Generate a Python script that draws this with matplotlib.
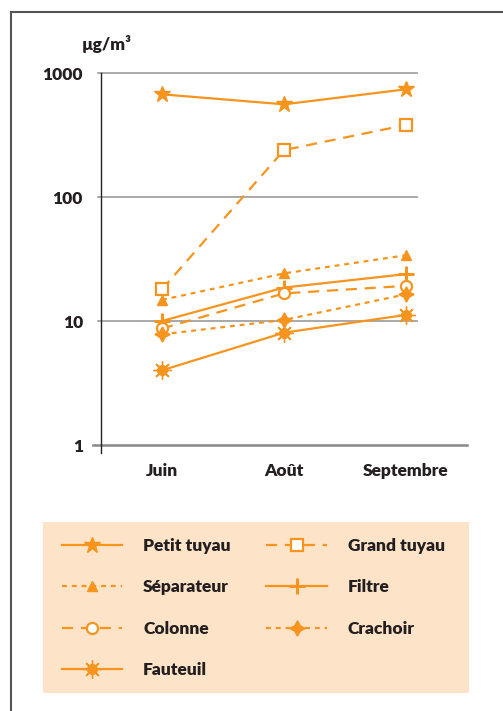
import matplotlib.pyplot as plt
from matplotlib.patches import Rectangle

# Data (log scale, µg/m3)
months = ["Juin", "Août", "Septembre"]
petit_tuyau = [673, 559, 739]
grand_tuyau = [18.0, 239, 381]
separateur = [14.8, 24.2, 33.9]
filtre = [10.0, 18.6, 23.9]
colonne = [8.7, 16.7, 19.2]
crachoir = [7.8, 10.2, 16.4]
fauteuil = [4.0, 8.05, 11.2]

ORANGE = "#F7941E"
TEXT = "#231F20"
FS = 12.5
plt.rcParams["font.family"] = ["Lato", "DejaVu Sans"]

W, H = 503, 711
fig = plt.figure(figsize=(W / 100, H / 100), dpi=100)


def fx(px):
    return px / W


def fy(py):
    return 1 - py / H


# outer frame: left and top lines only
fig.add_artist(plt.Line2D([fx(11), fx(11)], [fy(12), 0], color="#555555", lw=1.5))
fig.add_artist(plt.Line2D([fx(11), 1], [fy(12), fy(12)], color="#555555", lw=1.5))

ax = fig.add_axes([fx(101), fy(453), fx(467) - fx(101), fy(73) - fy(453)])
ax.set_yscale("log")
ax.set_ylim(10 ** (-8 / 124), 1000)
ax.set_xlim(-0.5, 2.5)
x = range(len(months))

for s in ["top", "right", "bottom"]:
    ax.spines[s].set_visible(False)
ax.spines["left"].set_color("#222222")
ax.spines["left"].set_linewidth(1.0)

# gridlines
gx0 = (98 - 101) / 366
gx1 = (417 - 101) / 366
for v in [10, 100, 1000]:
    ax.axhline(v, gx0, gx1, color="#999999", lw=1.2, clip_on=False, zorder=1)
ax.axhline(1, (93 - 101) / 366, 1, color="#888888", lw=1.8, clip_on=False, zorder=1)

ax.set_yticks([1, 10, 100, 1000])
ax.set_yticklabels(["1", "10", "100", "1000"])
ax.minorticks_off()
ax.set_xticks(list(x))
ax.set_xticklabels(months)
ax.tick_params(axis="y", length=0, pad=13)
ax.tick_params(axis="x", length=0, pad=7)
for lab in ax.get_xticklabels() + ax.get_yticklabels():
    lab.set_fontweight("heavy")
    lab.set_fontsize(FS)
    lab.set_color(TEXT)

lw = 1.6
handles = {}
handles["Petit tuyau"] = ax.plot(x, petit_tuyau, color=ORANGE, lw=lw, marker="*",
                                 ms=12, mec=ORANGE, mfc=ORANGE)[0]
handles["Grand tuyau"] = ax.plot(x, grand_tuyau, color=ORANGE, lw=lw, ls=(0, (5, 3.5)),
                                 marker="s", ms=8, mfc="white", mec=ORANGE, mew=1.6)[0]
handles["Séparateur"] = ax.plot(x, separateur, color=ORANGE, lw=lw, ls=(0, (2.2, 2.2)),
                                marker="^", ms=7, mfc=ORANGE, mec=ORANGE)[0]
handles["Filtre"] = ax.plot(x, filtre, color=ORANGE, lw=lw, marker="+",
                            ms=12, mew=2.2, mec=ORANGE)[0]
handles["Colonne"] = ax.plot(x, colonne, color=ORANGE, lw=lw, ls=(0, (5, 3.5)),
                             marker="o", ms=8, mfc="white", mec=ORANGE, mew=1.6)[0]
handles["Crachoir"] = ax.plot(x, crachoir, color=ORANGE, lw=lw, ls=(0, (2.2, 2.2)),
                              marker=(4, 1, 0), ms=11, mfc=ORANGE, mec=ORANGE)[0]
sun_core = ax.plot(x, fauteuil, color=ORANGE, lw=lw, marker="o",
                   ms=7, mfc=ORANGE, mec=ORANGE)[0]
sun_rays = ax.plot(x, fauteuil, ls="none", marker=(8, 2, 0), ms=13, mew=1.0,
                   mec=ORANGE)[0]
handles["Fauteuil"] = (sun_core, sun_rays)

fig.text(fx(82), fy(44), "µg/m³", fontsize=FS, fontweight="heavy", color=TEXT,
         ha="left", va="center")

# legend box
fig.add_artist(Rectangle((fx(43), fy(693)), fx(469) - fx(43), fy(522) - fy(693),
                         transform=fig.transFigure, facecolor="#FDE4C8",
                         edgecolor="none", zorder=0))
order = ["Petit tuyau", "Séparateur", "Colonne", "Fauteuil",
         "Grand tuyau", "Filtre", "Crachoir"]
leg = fig.legend([handles[k] for k in order], order, ncol=2, frameon=False,
                 loc="upper left", bbox_to_anchor=(fx(46), fy(522)),
                 handlelength=3.5, handletextpad=1.2, columnspacing=2.05,
                 labelspacing=1.47, numpoints=1,
                 prop={"weight": "heavy", "size": FS})
for t in leg.get_texts():
    t.set_color(TEXT)

fig.savefig("out.png", dpi=100)
